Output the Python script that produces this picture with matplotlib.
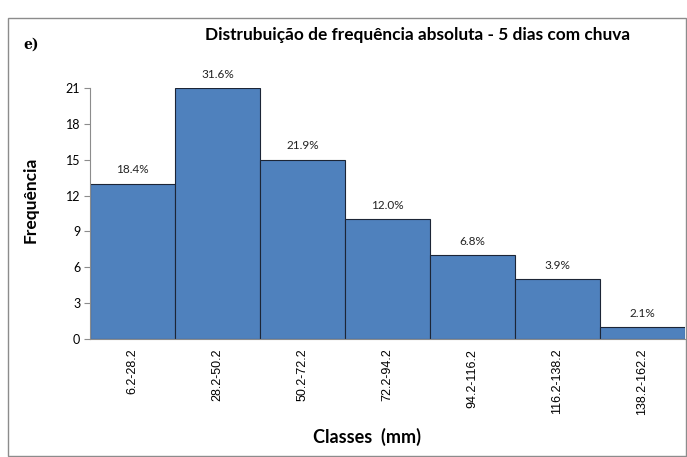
import matplotlib
matplotlib.use('Agg')
import matplotlib.pyplot as plt
from matplotlib.patches import Rectangle

plt.rcParams.update({'font.family': ['Lato', 'DejaVu Sans'], 'font.size': 8})

classes = ['6.2-28.2', '28.2-50.2', '50.2-72.2', '72.2-94.2',
           '94.2-116.2', '116.2-138.2', '138.2-162.2']
freq = [13, 21, 15, 10, 7, 5, 1]
pct = ['18.4%', '31.6%', '21.9%', '12.0%', '6.8%', '3.9%', '2.1%']
yticks = [0, 3, 6, 9, 12, 15, 18, 21]

BAR = '#4F81BD'
EDGE = '#1c2536'

fig = plt.figure(figsize=(6.87, 4.57), dpi=100)
fig.patches.append(Rectangle((8 / 687, 0.002), 678 / 687, 1 - 18 / 457 - 0.002,
                             transform=fig.transFigure, fill=False,
                             ec='#8c8c8c', lw=1.0))

ax = fig.add_axes([90 / 687, 118 / 457, 595 / 687, 251 / 457])
x = range(len(classes))
bars = ax.bar(x, freq, width=1.0, color=BAR, ec=EDGE, lw=0.8)
for b, lab in zip(bars, pct):
    ax.text(b.get_x() + b.get_width() / 2, b.get_height() + 0.7, lab,
            ha='center', va='bottom', fontsize=8.5, color='#222222')

ax.set_xlim(-0.5, 6.5)
ax.set_ylim(0, 21)
ax.set_yticks(yticks)
ax.set_yticklabels([str(v) for v in yticks], fontsize=9)
ax.set_xticks(list(x))
ax.set_xticklabels(classes, rotation=90, va='top', fontsize=9,
                   family=['Liberation Sans', 'DejaVu Sans'])
ax.tick_params(axis='x', length=0, pad=7)
ax.tick_params(axis='y', length=4, direction='out', color='#8c8c8c', pad=3)
for s in ['top', 'right']:
    ax.spines[s].set_visible(False)
for s in ['left', 'bottom']:
    ax.spines[s].set_color('#8c8c8c')

fig.text(31 / 687, (457 - 200) / 457, 'Frequência', rotation=90, ha='center',
         va='center', fontsize=12.5, fontweight='bold')
fig.text(367 / 687, (457 - 437) / 457, 'Classes  (mm)', ha='center', va='center',
         fontsize=13, fontweight='bold')
fig.text(418 / 687, (457 - 35) / 457, 'Distrubuição de frequência absoluta - 5 dias com chuva',
         ha='center', va='center', fontsize=12.4, fontweight='bold')
fig.text(23 / 687, (457 - 45) / 457, 'e)', ha='left', va='center', fontsize=10,
         fontweight='bold', family='DejaVu Serif')

fig.savefig('out.png', dpi=100)
